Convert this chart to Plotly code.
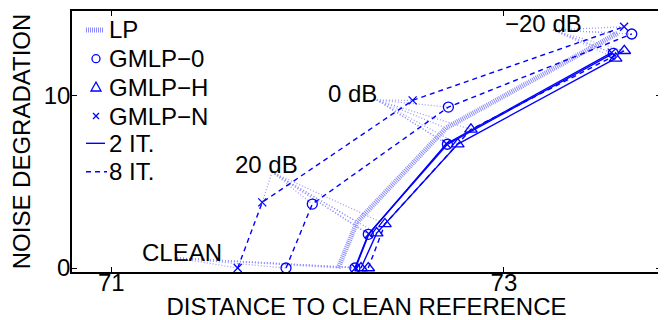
import plotly.graph_objects as go

# ---------------- data ----------------
conditions = ["CLEAN", "20 dB", "0 dB", "−20 dB"]

lp_x = [72.156, 72.252, 72.705, 73.581]
lp_y = [0.0, 2.66, 8.10, 13.60]

gmlp0_2it_x = [72.241, 72.309, 72.712, 73.557]
gmlp0_2it_y = [0.0, 1.95, 7.16, 12.42]
gmlph_2it_x = [72.272, 72.352, 72.765, 73.569]
gmlph_2it_y = [0.0, 2.02, 7.17, 12.13]
gmlpn_2it_x = [72.244, 72.312, 72.707, 73.549]
gmlpn_2it_y = [0.0, 1.97, 7.19, 12.46]

gmlp0_8it_x = [71.890, 72.024, 72.717, 73.651]
gmlp0_8it_y = [0.0, 3.70, 9.31, 13.54]
gmlph_8it_x = [72.309, 72.394, 72.832, 73.613]
gmlph_8it_y = [0.0, 2.55, 8.02, 12.57]
gmlpn_8it_x = [71.644, 71.769, 72.535, 73.612]
gmlpn_8it_y = [0.0, 3.80, 9.70, 13.96]

x_ticks = [71, 73]
y_ticks = [0, 10]
legend_labels = ["LP", "GMLP−0", "GMLP−H", "GMLP−N", "2 IT.", "8 IT."]

# label anchor points (where the leader lines meet) and label text centres
anchor_x = [71.335, 71.819, 72.353, 73.250]
anchor_y = [0.58, 5.55, 9.72, 13.77]
text_x = [71.360, 71.792, 72.231, 73.201]
text_y = [0.90, 6.00, 10.08, 14.16]

# ---------------- styles ----------------
FONT = "Liberation Sans, Arial, Helvetica, sans-serif"
BLUE = "rgb(0,0,255)"
LAV = "rgb(140,140,255)"
LEAD = "rgb(150,150,255)"
X_RANGE = [70.8, 73.8]
Y_RANGE = [-0.23, 14.87]
OFF = 8  # the page body has an 8px margin; the figure is shifted by it
W, H = 666 - OFF, 320 - OFF
ML, MR, MT, MB = 72 - OFF, 5, 11 - OFF, 48
PW, PH = W - ML - MR, H - MT - MB


def pxx(p):
    # page pixel -> paper fraction
    return (p - OFF - ML) / PW


def pxy(p):
    return 1 - (p - OFF - MT) / PH


fig = go.Figure()

# LP thick dotted line
fig.add_trace(go.Scatter(x=lp_x, y=lp_y, mode="lines", name="LP",
                         line=dict(color=LAV, width=5, dash="1px,1px"),
                         showlegend=False, hoverinfo="skip"))

# leader lines from the condition labels to each point
all_series_x = [lp_x, gmlp0_2it_x, gmlph_2it_x, gmlpn_2it_x,
                gmlp0_8it_x, gmlph_8it_x, gmlpn_8it_x]
all_series_y = [lp_y, gmlp0_2it_y, gmlph_2it_y, gmlpn_2it_y,
                gmlp0_8it_y, gmlph_8it_y, gmlpn_8it_y]
lx, ly = [], []
for i in range(len(conditions)):
    for sx, sy in zip(all_series_x, all_series_y):
        lx += [anchor_x[i], sx[i], None]
        ly += [anchor_y[i], sy[i], None]
fig.add_trace(go.Scatter(x=lx, y=ly, mode="lines",
                         line=dict(color=LEAD, width=1.2, dash="1px,2px"),
                         showlegend=False, hoverinfo="skip"))

series = [
    ("GMLP−0 8 IT.", gmlp0_8it_x, gmlp0_8it_y, "circle-open", 10, "5px,4px"),
    ("GMLP−N 8 IT.", gmlpn_8it_x, gmlpn_8it_y, "x-thin-open", 8, "5px,4px"),
    ("GMLP−H 8 IT.", gmlph_8it_x, gmlph_8it_y, "triangle-up-open", 11, "5px,4px"),
    ("GMLP−0 2 IT.", gmlp0_2it_x, gmlp0_2it_y, "circle-open", 10, "solid"),
    ("GMLP−N 2 IT.", gmlpn_2it_x, gmlpn_2it_y, "x-thin-open", 8, "solid"),
    ("GMLP−H 2 IT.", gmlph_2it_x, gmlph_2it_y, "triangle-up-open", 11, "solid"),
]
for name, sx, sy, sym, size, dash in series:
    fig.add_trace(go.Scatter(
        x=sx, y=sy, mode="lines+markers", name=name,
        line=dict(color=BLUE, width=1.4, dash=dash),
        marker=dict(symbol=sym, size=size, color=BLUE, line=dict(color=BLUE, width=1.3)),
        showlegend=False))

annotations = []
for i, c in enumerate(conditions):
    annotations.append(dict(x=text_x[i], y=text_y[i], xref="x", yref="y", text=c,
                            showarrow=False, xanchor="center", yanchor="middle",
                            font=dict(family=FONT, size=24, color="black")))

# ---------------- manual legend ----------------
leg_text_x = 106.5
leg_y = [30, 58.7, 87, 116, 143.3, 171.7]
for lab, yy in zip(legend_labels, leg_y):
    annotations.append(dict(x=pxx(leg_text_x), y=pxy(yy), xref="paper", yref="paper",
                            text=lab, showarrow=False, xanchor="left", yanchor="middle",
                            font=dict(family=FONT, size=24, color="black")))

shapes = []
shapes.append(dict(type="line", xref="paper", yref="paper",
                   x0=pxx(86), x1=pxx(103), y0=pxy(leg_y[0]), y1=pxy(leg_y[0]),
                   line=dict(color=LAV, width=5, dash="1px,1px")))
marker_common = dict(xref="paper", yref="paper", xsizemode="pixel", ysizemode="pixel",
                     xanchor=pxx(96), line=dict(color=BLUE, width=1.3))
shapes.append(dict(type="circle", yanchor=pxy(leg_y[1]), x0=-4, x1=4, y0=-4, y1=4,
                   **marker_common))
shapes.append(dict(type="path", yanchor=pxy(leg_y[2]), path="M-5,-4 L5,-4 L0,5 Z",
                   **marker_common))
shapes.append(dict(type="path", yanchor=pxy(leg_y[3]), path="M-3,-3 L3,3 M-3,3 L3,-3",
                   **marker_common))
shapes.append(dict(type="line", xref="paper", yref="paper",
                   x0=pxx(86), x1=pxx(105), y0=pxy(leg_y[4]), y1=pxy(leg_y[4]),
                   line=dict(color=BLUE, width=1.4)))
shapes.append(dict(type="line", xref="paper", yref="paper",
                   x0=pxx(86), x1=pxx(107), y0=pxy(leg_y[5]), y1=pxy(leg_y[5]),
                   line=dict(color=BLUE, width=1.4, dash="5px,4px")))

axis_common = dict(showline=True, linecolor="black", linewidth=1.5, mirror="ticks",
                   ticks="inside", ticklen=5, tickwidth=1, tickcolor="black",
                   showgrid=False, zeroline=False, automargin=False,
                   tickfont=dict(family=FONT, size=24, color="black"))

fig.update_layout(
    width=W, height=H,
    margin=dict(l=ML, r=MR, t=MT, b=MB),
    paper_bgcolor="white", plot_bgcolor="white",
    font=dict(family=FONT, size=24, color="black"),
    showlegend=False,
    xaxis=dict(range=X_RANGE, tickvals=x_ticks, ticktext=[str(v) for v in x_ticks],
               ticklabelstandoff=-12,
               title=dict(text="DISTANCE TO CLEAN REFERENCE", standoff=16,
                          font=dict(family=FONT, size=24, color="black")),
               **axis_common),
    yaxis=dict(range=Y_RANGE, tickvals=y_ticks, ticktext=[str(v) for v in y_ticks],
               ticklabelstandoff=-5,
               title=dict(text="NOISE DEGRADATION", standoff=8,
                          font=dict(family=FONT, size=24, color="black")),
               **axis_common),
    annotations=annotations,
    shapes=shapes,
)

fig.write_html("out.html")
